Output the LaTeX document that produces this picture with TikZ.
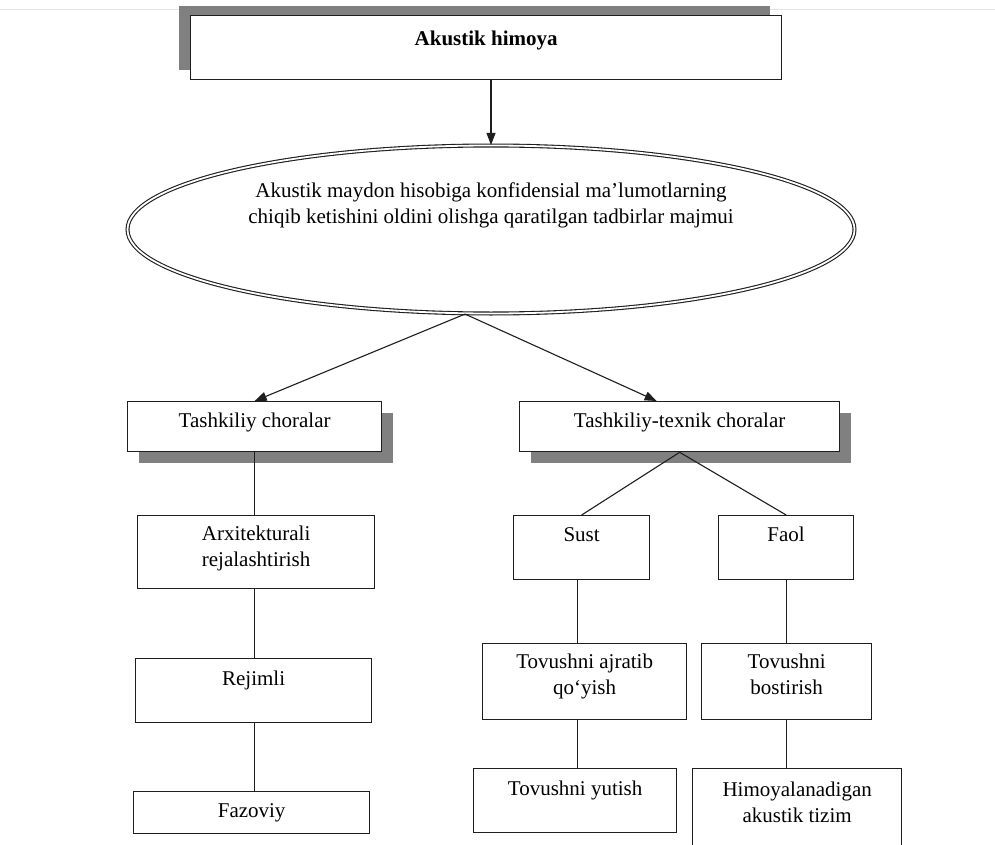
\documentclass[tikz,border=0pt]{standalone}
\usepackage{fontspec}
\setmainfont{Liberation Serif}
\usetikzlibrary{shapes.geometric,shadows,arrows.meta}
\definecolor{shadowgray}{HTML}{808080}
\definecolor{edgeline}{HTML}{1E1E1E}
\definecolor{rulegray}{HTML}{E4E4E4}

\begin{document}
\begin{tikzpicture}[x=1pt,y=-1pt,
  box/.style={draw=edgeline, line width=1.3pt, fill=white, inner sep=0pt,
              anchor=north west, minimum width=#1},
  box/.default=200,
  lbl/.style={anchor=north, inner sep=0pt, align=center,
              font=\fontsize{21}{26}\selectfont},
  shadowdown/.style={drop shadow={shadow xshift=11pt, shadow yshift=-11pt,
              fill=shadowgray, opacity=1}},
  shadowup/.style={drop shadow={shadow xshift=-12pt, shadow yshift=10pt,
              fill=shadowgray, opacity=1}},
  link/.style={draw=edgeline, line width=1.1pt},
  arr/.style={link, -{Triangle[length=12pt,width=9pt]}}
]
\clip (0,0) rectangle (995,845);
\fill[white] (0,0) rectangle (995,845);
\draw[rulegray, line width=1pt] (0,10) -- (995,10);

% title
\node[box=591, minimum height=64, shadowup] (top) at (190,15) {};
\node[lbl, font=\fontsize{21}{26}\selectfont\bfseries] (toptxt) at ([yshift=-16pt]top.north) {Akustik himoya};

% central ellipse
\node[draw=edgeline, double, ellipse, line width=1.1pt, double distance=1.8pt,
      minimum width=727, minimum height=168, inner sep=0pt] (ell) at (491,229.5) {};
\node[lbl] (elltxt) at (491,183) {Akustik maydon hisobiga konfidensial ma’lumotlarning\\
  chiqib ketishini oldini olishga qaratilgan tadbirlar majmui};
\coordinate (ellb) at ([xshift=-26pt]ell.south);

% second level
\node[box=254, minimum height=50, shadowdown] (tc) at (127,401) {};
\node[lbl] (tctxt) at ([yshift=-12pt]tc.north) {Tashkiliy choralar};
\node[box=320, minimum height=50, shadowdown] (tt) at (519,401) {};
\node[lbl] (tttxt) at ([yshift=-12pt]tt.north) {Tashkiliy-texnik choralar};
\coordinate (ttin) at ([xshift=-23pt]tt.north);

% left branch
\node[box=237, minimum height=73] (ar) at (137,515) {};
\node[lbl] (artxt) at ([yshift=-11pt]ar.north) {Arxitekturali\\rejalashtirish};
\node[box=236, minimum height=64] (rj) at (135,658) {};
\node[lbl] (rjtxt) at ([yshift=-13pt]rj.north) {Rejimli};
\node[box=236, minimum height=42] (fz) at (133,791) {};
\node[lbl] (fztxt) at ([yshift=-12pt]fz.north) {Fazoviy};

% right branch
\node[box=136, minimum height=64] (su) at (513,515) {};
\node[lbl] (sutxt) at ([yshift=-12pt]su.north) {Sust};
\node[box=135, minimum height=64] (fa) at (718,515) {};
\node[lbl] (fatxt) at ([yshift=-12pt]fa.north) {Faol};
\node[box=204, minimum height=76] (aj) at (482,643) {};
\node[lbl] (ajtxt) at ([yshift=-11pt]aj.north) {Tovushni ajratib\\qo‘yish};
\node[box=170, minimum height=76] (bo) at (701,643) {};
\node[lbl] (botxt) at ([yshift=-11pt]bo.north) {Tovushni\\bostirish};
\node[box=203, minimum height=64] (yu) at (473,768) {};
\node[lbl] (yutxt) at ([yshift=-13pt]yu.north) {Tovushni yutish};
\node[box=209, minimum height=100] (hi) at (692,768) {};
\node[lbl] (hitxt) at ([yshift=-14pt]hi.north) {Himoyalanadigan\\akustik tizim};

% connectors
\draw[arr] (ell.north |- top.south) -- (ell.north);
\draw[arr] (ellb) -- (tc.north);
\draw[arr] (ellb) -- (ttin);

\draw[link] (tc.south) -- (tc.south |- ar.north);
\draw[link] (tc.south |- ar.south) -- (tc.south |- rj.north);
\draw[link] (tc.south |- rj.south) -- (tc.south |- fz.north);

\draw[link] (tt.south) -- (su.north);
\draw[link] (tt.south) -- (fa.north);
\draw[link] ([xshift=-4pt]su.south) -- ([xshift=-4pt]su.south |- aj.north);
\draw[link] ([xshift=-4pt]su.south |- aj.south) -- ([xshift=-4pt]su.south |- yu.north);
\draw[link] (fa.south) -- (fa.south |- bo.north);
\draw[link] (fa.south |- bo.south) -- (fa.south |- hi.north);
\end{tikzpicture}
\end{document}
